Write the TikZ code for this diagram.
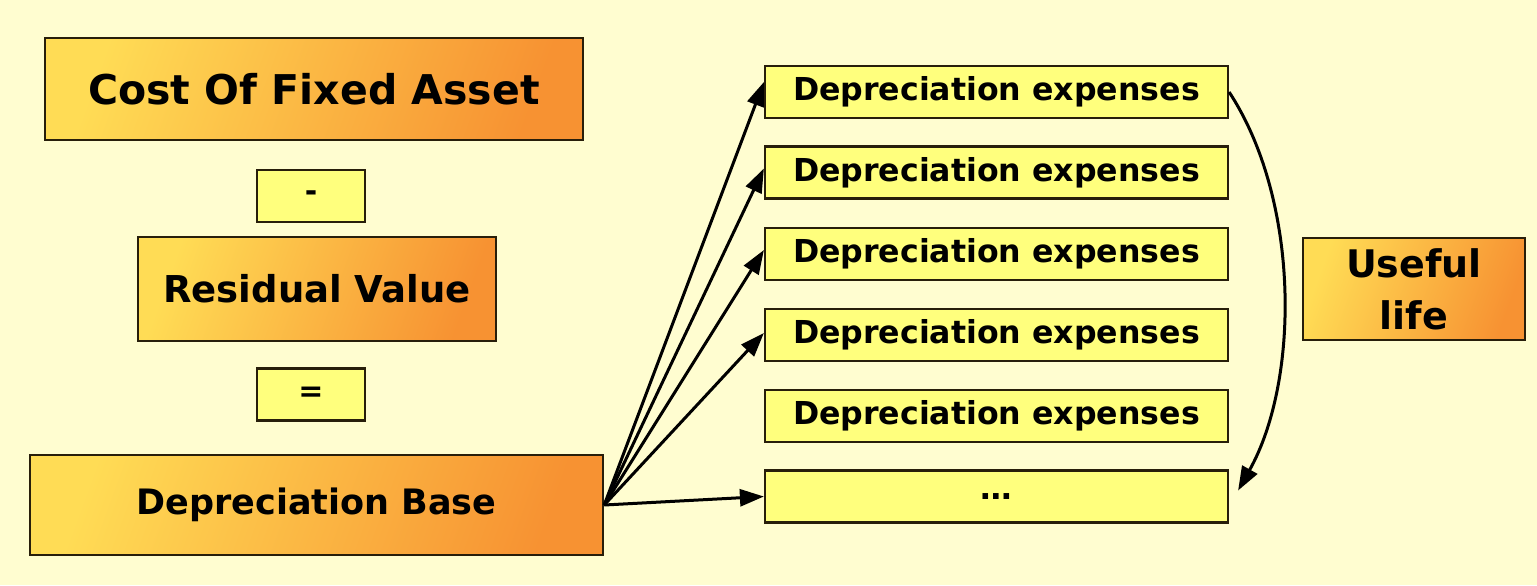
\documentclass[tikz,border=0pt]{standalone}
\usepackage{fontspec}
\setmainfont{DejaVu Sans}
\usetikzlibrary{arrows.meta}
\definecolor{bgcream}{RGB}{255,253,208}
\definecolor{lightbox}{RGB}{255,255,125}
\definecolor{orangeR}{RGB}{247,146,50}
\definecolor{yellowL}{RGB}{255,220,85}
\definecolor{edge}{RGB}{40,30,10}
\tikzset{
  orangebox/.style={draw=edge, line width=1.2pt, left color=yellowL, right color=orangeR, shading angle=70,
    inner sep=0pt, align=center},
  yellowbox/.style={draw=edge, line width=1.1pt, fill=lightbox, inner sep=0pt, align=center,
    minimum width=231.5pt, minimum height=26pt, font=\bfseries\fontsize{15.8}{18}\selectfont},
  opbox/.style={draw=edge, line width=1.1pt, fill=lightbox, inner sep=0pt, minimum width=54pt, minimum height=26pt,
    font=\bfseries\fontsize{15}{17}\selectfont},
  conn/.style={line width=1.5pt, -{Triangle[length=12pt,width=8.5pt]}},
}
\begin{document}
\begin{tikzpicture}[x=0.5pt,y=-0.5pt]
\fill[bgcream] (0,0) rectangle (1537,585);
\useasboundingbox (0,0) rectangle (1537,585);
\node[orangebox, minimum width=269pt, minimum height=51pt, font=\bfseries\fontsize{20.5}{24}\selectfont] (cost) at (314,89) {Cost Of Fixed Asset};
\node[opbox] (minus) at (311,196) {-};
\node[orangebox, minimum width=179pt, minimum height=52pt, font=\bfseries\fontsize{18.5}{22}\selectfont] (resid) at (317,289) {Residual Value};
\node[opbox] (eq) at (311,394.5) {=};
\node[orangebox, minimum width=286.5pt, minimum height=50pt, font=\bfseries\fontsize{17.5}{21}\selectfont] (base) at (316.5,505) {Depreciation Base};
\node[yellowbox] (d1) at (996.5,92) {Depreciation expenses};
\node[yellowbox] (d2) at (996.5,172.5) {Depreciation expenses};
\node[yellowbox] (d3) at (996.5,254) {Depreciation expenses};
\node[yellowbox] (d4) at (996.5,335) {Depreciation expenses};
\node[yellowbox] (d5) at (996.5,416) {Depreciation expenses};
\node[yellowbox] (d6) at (996.5,496.5) {\dots};
\node[orangebox, minimum width=111pt, minimum height=51pt, font=\bfseries\fontsize{19}{26}\selectfont] (useful) at (1414,289) {Useful\\life};
\coordinate (src) at (base.east);
\draw[conn] (src) -- ([yshift=5pt]d1.west);
\draw[conn] (src) -- ([yshift=2pt]d2.west);
\draw[conn] (src) -- ([yshift=2pt]d3.west);
\draw[conn] (src) -- ([yshift=1pt]d4.west);
\draw[conn] (src) -- (d6.west);
\draw[conn] (d1.east) .. controls (1300,200) and (1300,380) .. ([xshift=4.5pt,yshift=3pt]d6.east);
\end{tikzpicture}
\end{document}
